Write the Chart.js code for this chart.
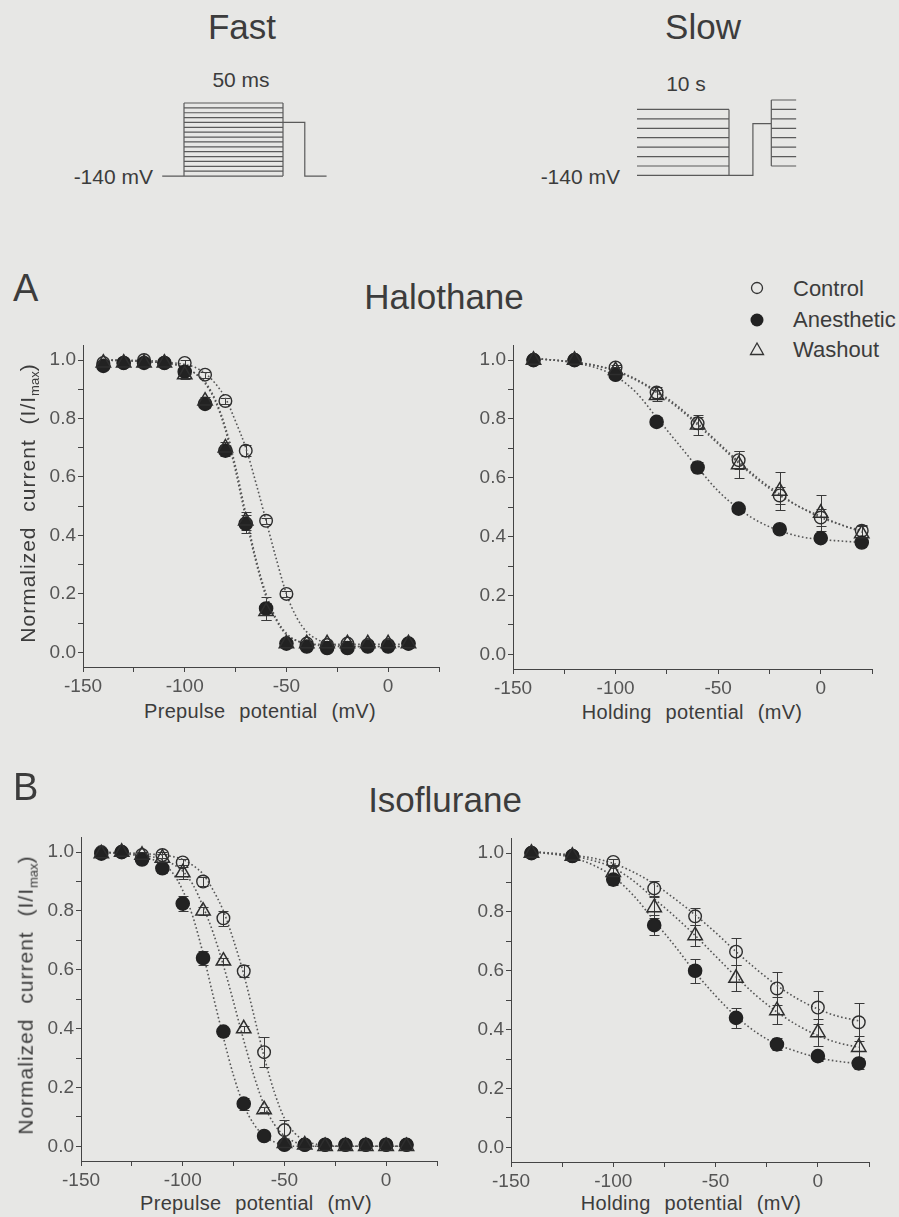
<!DOCTYPE html>
<html>
<head>
<meta charset="utf-8">
<script src="https://cdn.jsdelivr.net/npm/chart.js@4.4.1/dist/chart.umd.min.js"></script>
<style>
  html, body { margin: 0; padding: 0; background: #e7e7e5; }
  body { width: 899px; height: 1217px; position: relative; overflow: hidden;
         font-family: "Liberation Sans", Arial, sans-serif; color: #3c3c3c; }
  canvas { position: absolute; }
  .t { position: absolute; line-height: 1; white-space: nowrap; transform: translate(-50%, -50%); }
  .r { position: absolute; line-height: 1; white-space: nowrap; transform: translate(-100%, -50%); }
  .l { position: absolute; line-height: 1; white-space: nowrap; transform: translate(0, -50%); }
  .xt { font-size: 20px; word-spacing: 8px; letter-spacing: 0.3px; }
  .yt { position: absolute; line-height: 1; white-space: nowrap; font-size: 21px;
        letter-spacing: 1px; word-spacing: 8px; transform: translate(-50%, -50%) rotate(-90deg); }
  .yt sub { font-size: 0.62em; vertical-align: -0.35em; letter-spacing: 0; }
  .leg svg { position: absolute; }
</style>
</head>
<body>

<!-- protocols -->
<div class="t" style="left:242px;top:26px;font-size:35px">Fast</div>
<div class="t" style="left:241px;top:79px;font-size:21px">50 ms</div>
<div class="r" style="left:153px;top:176px;font-size:21px">-140 mV</div>
<canvas id="protoFast" width="175" height="90" style="left:158px;top:95px"></canvas>

<div class="t" style="left:703px;top:26px;font-size:35px">Slow</div>
<div class="t" style="left:686px;top:83px;font-size:21px">10 s</div>
<div class="r" style="left:620px;top:176px;font-size:21px">-140 mV</div>
<canvas id="protoSlow" width="180" height="100" style="left:627px;top:90px"></canvas>

<!-- panel A -->
<div class="l" style="left:13px;top:288px;font-size:38px">A</div>
<div class="t" style="left:444px;top:296px;font-size:35px">Halothane</div>

<div class="leg">
  <svg width="16" height="16" style="left:749px;top:280px"><circle cx="8" cy="8" r="5.5" fill="none" stroke="#333" stroke-width="1.3"/></svg>
  <div class="l" style="left:793px;top:289px;font-size:22px">Control</div>
  <svg width="16" height="16" style="left:749px;top:312px"><circle cx="8" cy="8" r="6.5" fill="#222"/></svg>
  <div class="l" style="left:793px;top:320px;font-size:22px">Anesthetic</div>
  <svg width="18" height="16" style="left:748px;top:341px"><polygon points="9,2 15.5,13.5 2.5,13.5" fill="none" stroke="#333" stroke-width="1.3"/></svg>
  <div class="l" style="left:793px;top:350px;font-size:22px">Washout</div>
</div>

<canvas id="halFast" width="418" height="365" style="left:33px;top:332px"></canvas>
<canvas id="halSlow" width="421" height="367" style="left:463px;top:332px"></canvas>
<div class="yt" style="left:29px;top:503px">Normalized current (I/I<sub>max</sub>)</div>
<div class="t xt" style="left:260px;top:711px">Prepulse potential (mV)</div>
<div class="t xt" style="left:692px;top:712px">Holding potential (mV)</div>

<!-- panel B -->
<div class="l" style="left:13px;top:787px;font-size:38px">B</div>
<div class="t" style="left:445px;top:799px;font-size:35px">Isoflurane</div>

<canvas id="isoFast" width="418" height="367" style="left:31px;top:824px"></canvas>
<canvas id="isoSlow" width="420" height="367" style="left:461px;top:825px"></canvas>
<div class="yt" style="left:27px;top:995px">Normalized current (I/I<sub>max</sub>)</div>
<div class="t xt" style="left:256px;top:1203px">Prepulse potential (mV)</div>
<div class="t xt" style="left:691px;top:1203px">Holding potential (mV)</div>

<script>
// =============================
// DATA
// =============================
const fastV = [-140, -130, -120, -110, -100, -90, -80, -70, -60, -50, -40, -30, -20, -10, 0, 10];
const holdV = [-140, -120, -100, -80, -60, -40, -20, 0, 20];
const fitFastV = [-140, -120, -110, -105, -100, -95, -90, -85, -80, -75, -70, -65, -60, -55, -50, -45, -40, -35, -30, -20, -10, 0, 10];
const fitHoldV = [-140, -130, -120, -110, -100, -90, -80, -70, -60, -50, -40, -30, -20, -10, 0, 10, 20];

const xTicks = [-150, -125, -100, -75, -50, -25, 0, 25];
const xTickLabels = ["-150", "", "-100", "", "-50", "", "0", ""];
const yTicks = [0, 0.1, 0.2, 0.3, 0.4, 0.5, 0.6, 0.7, 0.8, 0.9, 1.0];
const yTickLabels = ["0.0", "", "0.2", "", "0.4", "", "0.6", "", "0.8", "", "1.0"];

// Halothane, fast inactivation
const halFastControl    = [0.99, 0.99, 1.00, 0.99, 0.99, 0.95, 0.86, 0.69, 0.45, 0.20, 0.03, 0.025, 0.03, 0.025, 0.025, 0.03];
const halFastControlErr = [0.005, 0.005, 0.005, 0.005, 0.01, 0.01, 0.01, 0.02, 0.01, 0.01, 0.01, 0.01, 0.01, 0.01, 0.01, 0.01];
const halFastAnes       = [0.98, 0.99, 0.99, 0.99, 0.96, 0.85, 0.69, 0.44, 0.15, 0.03, 0.02, 0.015, 0.015, 0.02, 0.02, 0.03];
const halFastAnesErr    = [0.01, 0.005, 0.005, 0.01, 0.02, 0.015, 0.02, 0.03, 0.04, 0.01, 0.01, 0.01, 0.01, 0.01, 0.01, 0.01];
const halFastWash       = [0.99, 0.99, 0.99, 0.99, 0.95, 0.86, 0.70, 0.45, 0.14, 0.03, 0.03, 0.03, 0.03, 0.03, 0.03, 0.03];
const halFastWashErr    = [0.005, 0.005, 0.005, 0.01, 0.015, 0.015, 0.02, 0.03, 0.03, 0.01, 0.01, 0.01, 0.01, 0.01, 0.01, 0.01];
const halFastControlFit = [1.0, 0.998, 0.995, 0.99, 0.985, 0.975, 0.955, 0.92, 0.87, 0.79, 0.70, 0.58, 0.45, 0.32, 0.20, 0.12, 0.07, 0.045, 0.03, 0.022, 0.02, 0.02, 0.02];
const halFastAnesFit    = [1.0, 0.995, 0.99, 0.985, 0.975, 0.955, 0.92, 0.86, 0.76, 0.62, 0.46, 0.31, 0.19, 0.11, 0.06, 0.04, 0.03, 0.025, 0.02, 0.02, 0.02, 0.02, 0.02];
const halFastWashFit    = [1.0, 0.995, 0.99, 0.985, 0.975, 0.955, 0.925, 0.865, 0.77, 0.635, 0.475, 0.32, 0.20, 0.115, 0.065, 0.04, 0.03, 0.028, 0.028, 0.028, 0.028, 0.028, 0.028];

// Halothane, slow inactivation
const halSlowControl    = [1.0, 1.0, 0.975, 0.89, 0.785, 0.66, 0.54, 0.465, 0.42];
const halSlowControlErr = [0.005, 0.005, 0.01, 0.02, 0.02, 0.03, 0.03, 0.03, 0.02];
const halSlowAnes       = [1.0, 1.0, 0.95, 0.79, 0.635, 0.495, 0.425, 0.395, 0.38];
const halSlowAnesErr    = [0.005, 0.005, 0.01, 0.015, 0.02, 0.01, 0.01, 0.01, 0.01];
const halSlowWash       = [1.0, 1.0, 0.965, 0.88, 0.78, 0.645, 0.555, 0.48, 0.41];
const halSlowWashErr    = [0.005, 0.005, 0.01, 0.02, 0.035, 0.045, 0.065, 0.06, 0.025];
const halSlowControlFit = [1.005, 1.0, 0.993, 0.982, 0.965, 0.935, 0.895, 0.845, 0.785, 0.72, 0.655, 0.595, 0.545, 0.50, 0.47, 0.44, 0.42];
const halSlowAnesFit    = [1.005, 1.0, 0.99, 0.975, 0.945, 0.89, 0.805, 0.72, 0.635, 0.555, 0.495, 0.45, 0.42, 0.40, 0.39, 0.385, 0.38];
const halSlowWashFit    = [1.005, 1.0, 0.993, 0.982, 0.963, 0.932, 0.89, 0.84, 0.78, 0.715, 0.65, 0.59, 0.54, 0.50, 0.465, 0.44, 0.415];

// Isoflurane, fast inactivation
const isoFastControl    = [1.0, 1.0, 0.99, 0.99, 0.965, 0.90, 0.775, 0.595, 0.32, 0.055, 0.005, 0.005, 0.005, 0.005, 0.005, 0.005];
const isoFastControlErr = [0.005, 0.005, 0.01, 0.01, 0.01, 0.015, 0.025, 0.02, 0.05, 0.035, 0.005, 0.005, 0.005, 0.005, 0.005, 0.005];
const isoFastAnes       = [0.995, 1.0, 0.975, 0.945, 0.825, 0.64, 0.39, 0.145, 0.035, 0.005, 0.005, 0.005, 0.005, 0.005, 0.005, 0.005];
const isoFastAnesErr    = [0.005, 0.005, 0.01, 0.015, 0.025, 0.025, 0.015, 0.02, 0.01, 0.005, 0.005, 0.005, 0.005, 0.005, 0.005, 0.005];
const isoFastWash       = [0.995, 1.0, 0.99, 0.98, 0.93, 0.80, 0.63, 0.40, 0.125, 0.01, 0.005, 0.0, 0.0, 0.0, 0.0, 0.0];
const isoFastWashErr    = [0.005, 0.005, 0.01, 0.015, 0.02, 0.015, 0.01, 0.01, 0.01, 0.01, 0.005, 0.005, 0.005, 0.005, 0.005, 0.005];
const isoFastControlFit = [1.0, 0.995, 0.99, 0.985, 0.975, 0.955, 0.925, 0.87, 0.80, 0.70, 0.585, 0.445, 0.305, 0.185, 0.095, 0.045, 0.02, 0.008, 0.003, 0.0, 0.0, 0.0, 0.0];
const isoFastAnesFit    = [1.0, 0.985, 0.96, 0.93, 0.87, 0.78, 0.655, 0.51, 0.37, 0.24, 0.14, 0.075, 0.035, 0.015, 0.005, 0.0, 0.0, 0.0, 0.0, 0.0, 0.0, 0.0, 0.0];
const isoFastWashFit    = [1.0, 0.99, 0.975, 0.96, 0.935, 0.89, 0.815, 0.725, 0.615, 0.49, 0.36, 0.24, 0.14, 0.075, 0.035, 0.015, 0.005, 0.0, 0.0, 0.0, 0.0, 0.0, 0.0];

// Isoflurane, slow inactivation
const isoSlowControl    = [1.0, 0.99, 0.97, 0.88, 0.785, 0.665, 0.54, 0.475, 0.425];
const isoSlowControlErr = [0.005, 0.005, 0.01, 0.025, 0.03, 0.045, 0.055, 0.055, 0.065];
const isoSlowAnes       = [1.0, 0.99, 0.91, 0.755, 0.60, 0.44, 0.35, 0.31, 0.285];
const isoSlowAnesErr    = [0.005, 0.005, 0.02, 0.035, 0.04, 0.035, 0.02, 0.015, 0.02];
const isoSlowWash       = [1.0, 0.99, 0.935, 0.815, 0.72, 0.575, 0.465, 0.39, 0.34];
const isoSlowWashErr    = [0.005, 0.005, 0.02, 0.035, 0.035, 0.045, 0.045, 0.045, 0.04];
const isoSlowControlFit = [1.005, 1.0, 0.993, 0.983, 0.965, 0.935, 0.895, 0.845, 0.79, 0.73, 0.665, 0.605, 0.55, 0.505, 0.47, 0.445, 0.43];
const isoSlowAnesFit    = [1.005, 0.997, 0.985, 0.96, 0.92, 0.855, 0.77, 0.685, 0.595, 0.515, 0.445, 0.39, 0.35, 0.325, 0.305, 0.292, 0.285];
const isoSlowWashFit    = [1.005, 0.998, 0.99, 0.975, 0.95, 0.905, 0.845, 0.785, 0.72, 0.65, 0.58, 0.515, 0.46, 0.415, 0.38, 0.355, 0.34];

// Voltage protocols (schematic)
const fastLevels = [-140, -130, -120, -110, -100, -90, -80, -70, -60, -50, -40, -30, -20, -10, 0, 10];
const fastTimes = [-11, 0, 50, 61, 72];       // ms
const fastTestLevel = -30;
const slowPreLevels = [-140, -120, -100, -80, -60, -40, -20, 0];
const slowTestLevels = [-120, -100, -80, -60, -40, -20, 0, 20];
const slowTimes = [0, 10, 12.6, 14.6, 17.3]; // s
const slowStepLevel = -30;

// =============================
// HELPERS
// =============================
Chart.defaults.font.family = '"Liberation Sans", Arial, sans-serif';
const INK = "#2e2e2e";
const AXIS = "#444";

function pts(xs, ys) {
  return xs.map((x, i) => ({ x: x, y: ys[i] }));
}

// segments -> one dataset with gaps between them
function segData(segs) {
  const out = [];
  segs.forEach(seg => {
    seg.forEach(p => out.push({ x: p[0], y: p[1] }));
    out.push({ x: seg[seg.length - 1][0], y: null });
  });
  return out;
}

const errorBars = {
  id: "errorBars",
  beforeDatasetsDraw(chart) {
    const { ctx, scales } = chart;
    ctx.save();
    ctx.strokeStyle = "#3a3a3a";
    ctx.lineWidth = 1;
    chart.data.datasets.forEach(ds => {
      if (!ds.errors) return;
      ds.data.forEach((p, j) => {
        const e = ds.errors[j];
        if (!e) return;
        const px = Math.round(scales.x.getPixelForValue(p.x)) + 0.5;
        const top = Math.round(scales.y.getPixelForValue(p.y + e)) + 0.5;
        const bot = Math.round(scales.y.getPixelForValue(p.y - e)) + 0.5;
        ctx.beginPath();
        ctx.moveTo(px, top); ctx.lineTo(px, bot);
        ctx.moveTo(px - 5, top); ctx.lineTo(px + 5, top);
        ctx.moveTo(px - 5, bot); ctx.lineTo(px + 5, bot);
        ctx.stroke();
      });
    });
    ctx.restore();
  }
};

function fitSet(xs, ys) {
  return {
    data: pts(xs, ys),
    showLine: true,
    pointRadius: 0,
    borderColor: "#555",
    borderWidth: 1.6,
    borderDash: [1.6, 2.4],
    cubicInterpolationMode: "monotone",
    clip: false
  };
}

function markerSet(xs, ys, errs, kind) {
  const ds = { data: pts(xs, ys), errors: errs, showLine: false, clip: false, borderColor: INK, borderWidth: 1.4 };
  if (kind === "control") {
    ds.pointStyle = "circle"; ds.pointRadius = 6.3; ds.backgroundColor = "rgba(0,0,0,0)";
  } else if (kind === "anes") {
    ds.pointStyle = "circle"; ds.pointRadius = 6.6; ds.backgroundColor = "#222"; ds.borderColor = "#222";
  } else {
    ds.pointStyle = "triangle"; ds.pointRadius = 8.3; ds.borderWidth = 1.5; ds.backgroundColor = "rgba(0,0,0,0)";
  }
  return ds;
}

function axisX() {
  return {
    type: "linear", min: -150, max: 25,
    afterBuildTicks: s => { s.ticks = xTicks.map(v => ({ value: v })); },
    afterFit: s => { s.height = 30; },
    ticks: { autoSkip: false, maxRotation: 0, padding: 3, color: "#555", font: { size: 19 },
             callback: (v, i) => xTickLabels[i] },
    grid: { drawOnChartArea: false, tickLength: 5, color: AXIS },
    border: { color: AXIS, width: 1 }
  };
}

function axisY() {
  return {
    type: "linear", min: -0.05, max: 1.05,
    afterBuildTicks: s => { s.ticks = yTicks.map(v => ({ value: v })); },
    afterFit: s => { s.width = 50; },
    ticks: { padding: 2, color: "#555", font: { size: 19 },
             callback: (v, i) => yTickLabels[i] },
    grid: { drawOnChartArea: false, tickLength: 5, color: AXIS },
    border: { color: AXIS, width: 1 }
  };
}

function drawPanel(id, xs, fitXs, control, controlErr, anes, anesErr, wash, washErr, controlFit, anesFit, washFit) {
  new Chart(document.getElementById(id), {
    type: "scatter",
    data: {
      datasets: [
        markerSet(xs, wash, washErr, "wash"),
        markerSet(xs, anes, anesErr, "anes"),
        markerSet(xs, control, controlErr, "control"),
        fitSet(fitXs, washFit),
        fitSet(fitXs, anesFit),
        fitSet(fitXs, controlFit)
      ]
    },
    options: {
      responsive: false,
      animation: false,
      events: [],
      layout: { padding: { top: 12, right: 12, left: 0, bottom: 0 } },
      plugins: { legend: { display: false }, tooltip: { enabled: false } },
      scales: { x: axisX(), y: axisY() }
    },
    plugins: [errorBars]
  });
}

function drawProtocol(id, segs, xMin, xMax, yMin, yMax) {
  new Chart(document.getElementById(id), {
    type: "scatter",
    data: {
      datasets: [{
        data: segData(segs),
        showLine: true,
        spanGaps: false,
        pointRadius: 0,
        borderColor: "#5a5a5a",
        borderWidth: 1.2,
        clip: false
      }]
    },
    options: {
      responsive: false,
      animation: false,
      events: [],
      layout: { padding: 0 },
      plugins: { legend: { display: false }, tooltip: { enabled: false } },
      scales: {
        x: { type: "linear", display: false, min: xMin, max: xMax },
        y: { type: "linear", display: false, min: yMin, max: yMax }
      }
    }
  });
}

// =============================
// PROTOCOLS
// =============================
(function () {
  const [t0, t1, t2, t3, t4] = fastTimes;
  const hold = fastLevels[0];
  const top = fastLevels[fastLevels.length - 1];
  const segs = [
    [[t0, hold], [t1, hold]],
    [[t1, hold], [t1, top]],
    [[t2, hold], [t2, top]],
    [[t2, fastTestLevel], [t3, fastTestLevel], [t3, hold], [t4, hold]]
  ];
  fastLevels.forEach(v => segs.push([[t1, v], [t2, v]]));
  drawProtocol("protoFast", segs, -13.13, 75.25, -158.4, 26.4);
})();

(function () {
  const [t0, t1, t2, t3, t4] = slowTimes;
  const hold = slowPreLevels[0];
  const top = slowPreLevels[slowPreLevels.length - 1];
  const segs = [
    [[t1, top], [t1, hold]],
    [[t1, hold], [t2, hold], [t2, slowStepLevel], [t3, slowStepLevel]],
    [[t3, slowTestLevels[0]], [t3, slowTestLevels[slowTestLevels.length - 1]]]
  ];
  slowPreLevels.forEach(v => segs.push([[t0, v], [t1, v]]));
  slowTestLevels.forEach(v => segs.push([[t3, v], [t4, v]]));
  drawProtocol("protoSlow", segs, -1.087, 18.48, -170.9, 41.2);
})();

// =============================
// PANELS
// =============================
drawPanel("halFast", fastV, fitFastV, halFastControl, halFastControlErr, halFastAnes, halFastAnesErr,
          halFastWash, halFastWashErr, halFastControlFit, halFastAnesFit, halFastWashFit);
drawPanel("halSlow", holdV, fitHoldV, halSlowControl, halSlowControlErr, halSlowAnes, halSlowAnesErr,
          halSlowWash, halSlowWashErr, halSlowControlFit, halSlowAnesFit, halSlowWashFit);
drawPanel("isoFast", fastV, fitFastV, isoFastControl, isoFastControlErr, isoFastAnes, isoFastAnesErr,
          isoFastWash, isoFastWashErr, isoFastControlFit, isoFastAnesFit, isoFastWashFit);
drawPanel("isoSlow", holdV, fitHoldV, isoSlowControl, isoSlowControlErr, isoSlowAnes, isoSlowAnesErr,
          isoSlowWash, isoSlowWashErr, isoSlowControlFit, isoSlowAnesFit, isoSlowWashFit);
</script>
</body>
</html>
